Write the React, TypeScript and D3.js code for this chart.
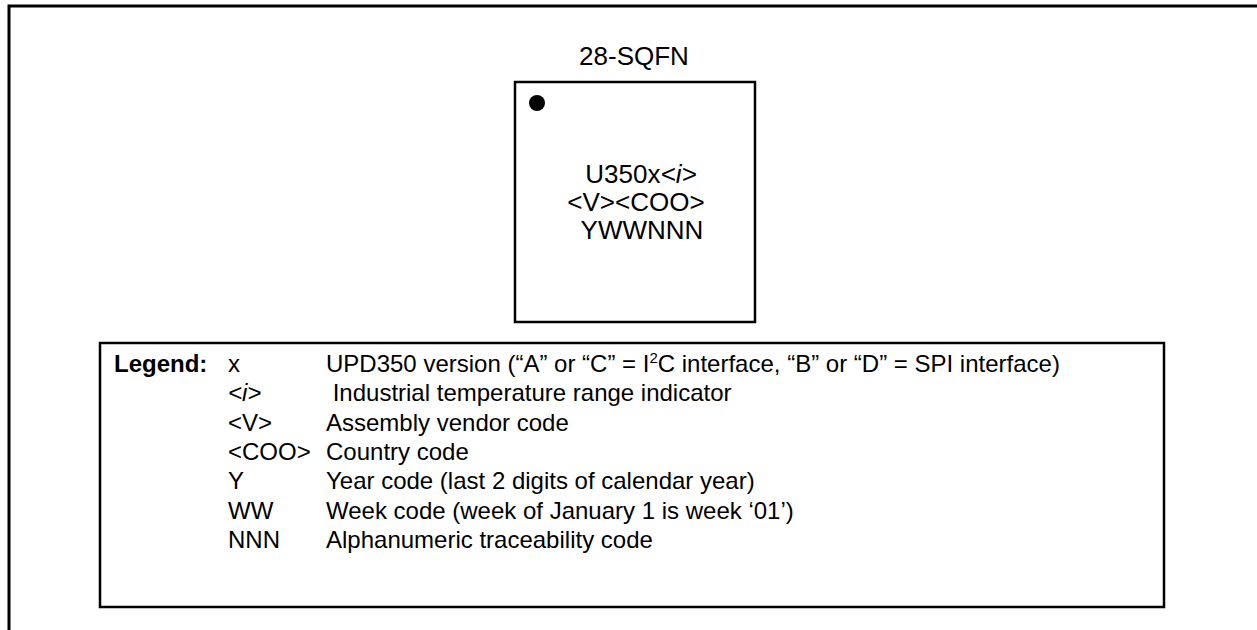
import React, { useRef, useEffect } from 'react';
import * as d3 from 'd3';

// Package title and marking lines (each line is a list of [text, italic] parts)
const packageName = '28-SQFN';
const markingLines: [string, boolean][][] = [
  [['U350x', false], ['<i>', true]],
  [['<V><COO>', false]],
  [['YWWNNN', false]],
];

// Legend
const legendTitle = 'Legend:';
const legendCodes: [string, boolean][] = [
  ['x', false],
  ['<i>', true],
  ['<V>', false],
  ['<COO>', false],
  ['Y', false],
  ['WW', false],
  ['NNN', false],
];
// "|" marks the superscript part
const legendDescriptions: string[] = [
  'UPD350 version (\u201CA\u201D or \u201CC\u201D = I|2|C interface, \u201CB\u201D or \u201CD\u201D = SPI interface)',
  ' Industrial temperature range indicator',
  'Assembly vendor code',
  'Country code',
  'Year code (last 2 digits of calendar year)',
  'Week code (week of January 1 is week \u201801\u2019)',
  'Alphanumeric traceability code',
];

const width = 1257;
const height = 630;
const font = '"Liberation Sans", Arial, Helvetica, sans-serif';

export default function App() {
  const svgRef = useRef(null);

  useEffect(() => {
    const svg = d3.select(svgRef.current);
    svg.selectAll('*').remove();

    // outer frame (runs off the page on the right and bottom)
    svg
      .append('rect')
      .attr('x', 9)
      .attr('y', 6)
      .attr('width', width + 20)
      .attr('height', height + 20)
      .attr('fill', 'none')
      .attr('stroke', '#000')
      .attr('stroke-width', 3);

    // Package drawing
    const pkg = { x: 515, y: 82, size: 240 };
    const cx = pkg.x + pkg.size / 2;

    svg
      .append('text')
      .attr('x', cx - 1)
      .attr('y', 65)
      .attr('text-anchor', 'middle')
      .style('font-family', font)
      .style('font-size', '26px')
      .text(packageName);

    svg
      .append('rect')
      .attr('x', pkg.x)
      .attr('y', pkg.y)
      .attr('width', pkg.size)
      .attr('height', pkg.size)
      .attr('fill', 'none')
      .attr('stroke', '#000')
      .attr('stroke-width', 2.5);

    // pin 1 dot
    svg
      .append('circle')
      .attr('cx', pkg.x + 22)
      .attr('cy', pkg.y + 21)
      .attr('r', 8)
      .attr('fill', '#000');

    const markY = d3
      .scaleLinear()
      .domain([0, markingLines.length - 1])
      .range([183, 239]);
    const nudge = [6, 1, 7];

    markingLines.forEach((parts, i) => {
      const t = svg
        .append('text')
        .attr('x', cx + nudge[i])
        .attr('y', markY(i))
        .attr('text-anchor', 'middle')
        .style('font-family', font)
        .style('font-size', '26px');
      parts.forEach(([s, it]) => {
        t.append('tspan')
          .style('font-style', it ? 'italic' : 'normal')
          .text(s);
      });
    });

    // Legend box
    const box = { x: 100, y: 343, w: 1064, h: 264 };
    svg
      .append('rect')
      .attr('x', box.x)
      .attr('y', box.y)
      .attr('width', box.w)
      .attr('height', box.h)
      .attr('fill', 'none')
      .attr('stroke', '#000')
      .attr('stroke-width', 2.5);

    const rowY = d3
      .scaleLinear()
      .domain([0, legendCodes.length - 1])
      .range([372, 548]);

    svg
      .append('text')
      .attr('x', 114)
      .attr('y', rowY(0))
      .style('font-family', font)
      .style('font-size', '24px')
      .style('font-weight', 'bold')
      .text(legendTitle);

    legendCodes.forEach(([code, it], i) => {
      svg
        .append('text')
        .attr('x', 228)
        .attr('y', rowY(i))
        .style('font-family', font)
        .style('font-size', '24px')
        .style('font-style', it ? 'italic' : 'normal')
        .text(code);
    });

    legendDescriptions.forEach((desc, i) => {
      const t = svg
        .append('text')
        .attr('x', 326)
        .attr('y', rowY(i))
        .attr('xml:space', 'preserve')
        .style('white-space', 'pre')
        .style('font-family', font)
        .style('font-size', '24px');
      const parts = desc.split('|');
      parts.forEach((p, j) => {
        const sup = j % 2 === 1;
        t.append('tspan')
          .attr('dy', sup ? -9 : j > 0 ? 9 : 0)
          .style('font-size', sup ? '15px' : '24px')
          .text(p);
      });
    });
  }, []);

  return (
    <svg
      ref={svgRef}
      width={width}
      height={height}
      style={{ position: 'absolute', left: 0, top: 0, background: '#fff' }}
    />
  );
}
